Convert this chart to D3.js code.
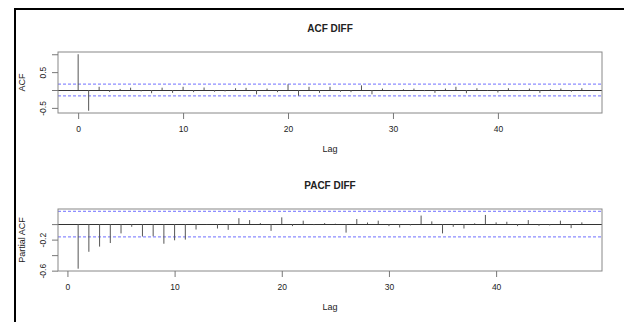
<!DOCTYPE html>
<html>
<head>
<meta charset="utf-8">
<script src="https://cdn.jsdelivr.net/npm/d3@7"></script>
<style>
  body { margin: 0; background: #fff; }
  text { font-family: "Liberation Sans", Arial, sans-serif; fill: #222; }
  .title { font-weight: bold; font-size: 10px; }
  .tick-label { font-size: 8.5px; }
  .axis-label { font-size: 9px; }
</style>
</head>
<body>
<div id="chart"></div>
<script>
// Data
var acfLags = d3.range(0, 49);
var acfValues = [1, -0.58, 0.09, -0.055, 0.03, 0.065, -0.04, -0.09, 0.065, -0.08,
  0.09, -0.06, 0.07, -0.05, -0.04, 0.05, 0.06, -0.12, 0.04, -0.06,
  0.16, -0.16, 0.09, -0.08, 0.09, -0.05, -0.06, 0.13, -0.12, 0.04,
  -0.03, 0.02, 0.04, -0.03, -0.08, 0.04, 0.09, -0.09, 0.05, -0.02,
  -0.07, 0.05, -0.03, 0.04, -0.08, 0.02, 0.04, -0.05, 0.05];

var pacfLags = d3.range(1, 49);
var pacfValues = [-0.575, -0.357, -0.29, -0.244, -0.12, -0.035, -0.16, -0.157, -0.253, -0.209,
  -0.2, -0.07, -0.005, -0.057, -0.074, 0.076, 0.052, 0.013, -0.087, 0.087,
  -0.026, 0.044, -0.013, 0.013, 0.005, -0.11, 0.065, 0.02, 0.044, -0.026,
  -0.044, -0.017, 0.11, 0.035, -0.12, -0.035, -0.057, 0.01, 0.118, 0.022,
  0.03, -0.026, 0.052, -0.022, -0.017, 0.044, -0.052, 0.022];

var clim = 0.165;
var acfTicksY = [-0.5, 0, 0.5, 1];
var acfTickLabelsY = ["-0.5", "", "0.5", ""];
var pacfTicksY = [-0.6, -0.4, -0.2, 0];
var pacfTickLabelsY = ["-0.6", "", "-0.2", ""];
var ticksX = [0, 10, 20, 30, 40];

var W = 624, H = 322;

var svg = d3.select("#chart")
    .append("svg")
    .attr("width", W)
    .attr("height", H);

// screenshot frame (left and top edges)
svg.append("line").attr("x1", 15).attr("x2", W).attr("y1", 9).attr("y2", 9)
    .attr("stroke", "#000").attr("stroke-width", 2);
svg.append("line").attr("x1", 15).attr("x2", 15).attr("y1", 8).attr("y2", H)
    .attr("stroke", "#000").attr("stroke-width", 2);

// R style range extension (4%)
function ext(lo, hi) {
    var d = (hi - lo) * 0.04;
    return [lo - d, hi + d];
}

function panel(opt) {
    var left = 58, right = 602;
    var top = opt.top, bottom = opt.bottom;

    var xScale = d3.scaleLinear()
        .domain(ext(d3.min(opt.lags), d3.max(opt.lags)))
        .range([left, right]);

    var yLo = Math.min(d3.min(opt.values), -clim);
    var yHi = Math.max(d3.max(opt.values), clim);
    var yScale = d3.scaleLinear()
        .domain(ext(yLo, yHi))
        .range([bottom, top]);

    var g = svg.append("g");

    // title
    g.append("text")
        .attr("class", "title")
        .attr("x", (left + right) / 2)
        .attr("y", top - 20)
        .attr("text-anchor", "middle")
        .text(opt.title);

    // confidence lines
    [clim, -clim].forEach(function (c) {
        g.append("line")
            .attr("x1", left).attr("x2", right)
            .attr("y1", yScale(c)).attr("y2", yScale(c))
            .attr("stroke", "#6f6fff")
            .attr("stroke-width", 1)
            .attr("stroke-dasharray", "3,2");
    });

    // zero line
    g.append("line")
        .attr("x1", left).attr("x2", right)
        .attr("y1", Math.round(yScale(0)) + 0.5).attr("y2", Math.round(yScale(0)) + 0.5)
        .attr("stroke", "#333");

    // spikes
    g.selectAll(".spike")
        .data(opt.lags.map(function (l, i) { return { lag: l, v: opt.values[i] }; }))
        .enter().append("line")
        .attr("class", "spike")
        .attr("x1", d => xScale(d.lag)).attr("x2", d => xScale(d.lag))
        .attr("y1", yScale(0)).attr("y2", d => yScale(d.v))
        .attr("stroke", "#555")
        .attr("stroke-width", 1);

    // box
    g.append("rect")
        .attr("x", left).attr("y", top)
        .attr("width", right - left).attr("height", bottom - top)
        .attr("fill", "none")
        .attr("stroke", "#888");

    // x axis
    var xAxis = d3.axisBottom(xScale)
        .tickValues(ticksX)
        .tickSize(6)
        .tickPadding(7)
        .tickFormat(d3.format("d"));
    var gx = g.append("g")
        .attr("transform", "translate(0," + bottom + ")")
        .call(xAxis);
    gx.select(".domain").remove();
    gx.selectAll("line").attr("stroke", "#777");
    gx.selectAll("text").attr("class", "tick-label")
        .style("font-family", null).attr("fill", "#222").attr("font-size", null);

    // y axis
    var yAxis = d3.axisLeft(yScale)
        .tickValues(opt.ticksY)
        .tickSize(6)
        .tickFormat(function (d, i) { return opt.tickLabelsY[i]; });
    var gy = g.append("g")
        .attr("transform", "translate(" + left + ",0)")
        .call(yAxis);
    gy.select(".domain").remove();
    gy.selectAll("line").attr("stroke", "#777");
    gy.selectAll("text")
        .attr("class", "tick-label")
        .attr("fill", "#222")
        .attr("x", null).attr("dy", null)
        .attr("text-anchor", "middle")
        .attr("transform", "translate(-12,0) rotate(-90)");

    // axis labels
    g.append("text")
        .attr("class", "axis-label")
        .attr("x", (left + right) / 2)
        .attr("y", bottom + 39)
        .attr("text-anchor", "middle")
        .text("Lag");

    g.append("text")
        .attr("class", "axis-label")
        .attr("transform", "translate(25," + ((top + bottom) / 2) + ") rotate(-90)")
        .attr("text-anchor", "middle")
        .text(opt.ylab);
}

panel({ title: "ACF DIFF", ylab: "ACF", lags: acfLags, values: acfValues,
        top: 52, bottom: 113, ticksY: acfTicksY, tickLabelsY: acfTickLabelsY });
panel({ title: "PACF DIFF", ylab: "Partial ACF", lags: pacfLags, values: pacfValues,
        top: 209, bottom: 271, ticksY: pacfTicksY, tickLabelsY: pacfTickLabelsY });
</script>
</body>
</html>
